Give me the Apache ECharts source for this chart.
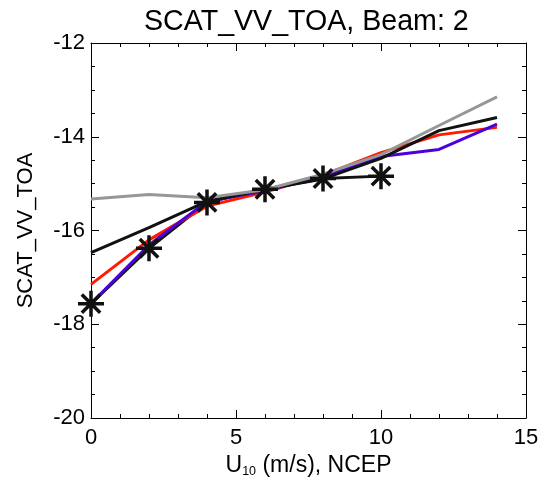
<!DOCTYPE html>
<html>
<head>
<meta charset="utf-8">
<script src="https://cdn.jsdelivr.net/npm/echarts@6/dist/echarts.min.js"></script>
<style>
  html, body { margin: 0; padding: 0; background: #fff; }
  #chart { width: 539px; height: 482px; }
</style>
</head>
<body>
<div id="chart"></div>
<script>
// wind speed bins (m/s)
const windSpeed = [0, 2, 4, 6, 8, 10, 12, 14];
const starX = [0, 2, 4, 6, 8, 10];
const starY = [-17.56, -16.38, -15.40, -15.12, -14.89, -14.84];
const redY = [-17.15, -16.20, -15.48, -15.18, -14.82, -14.34, -13.96, -13.80];
const blueY = [-17.56, -16.31, -15.38, -15.15, -14.86, -14.42, -14.27, -13.73];
const blackY = [-16.47, -15.94, -15.38, -15.12, -14.90, -14.46, -13.87, -13.59];
const grayY = [-15.33, -15.23, -15.30, -15.13, -14.80, -14.38, -13.76, -13.15];

const font = "Liberation Sans";
const starPath = "path://M0,-12L0,12M-12,0L12,0M-8.5,-8.5L8.5,8.5M-8.5,8.5L8.5,-8.5";

function pairs(xs, ys) {
  return xs.map((x, i) => [x, ys[i]]);
}

function lineSeries(ys, color) {
  return {
    type: "line",
    data: pairs(windSpeed, ys),
    showSymbol: false,
    symbol: "none",
    lineStyle: { color: color, width: 3 },
    silent: true,
  };
}

const axisLine = { show: true, onZero: false, lineStyle: { color: "#000", width: 1 } };
const axisTick = { show: true, inside: true, length: 8, lineStyle: { color: "#000" } };

function xMinor() {
  return { show: true, splitNumber: 5, length: 4, lineStyle: { color: "#000" } };
}
function yMinor() {
  return { show: true, splitNumber: 4, length: 4, lineStyle: { color: "#000" } };
}

const chart = echarts.init(document.getElementById("chart"));
chart.setOption({
  animation: false,
  title: {
    text: "SCAT_VV_TOA, Beam: 2",
    left: 139,
    top: 3,
    textStyle: { fontFamily: font, fontSize: 28.6, fontWeight: "normal", color: "#000" },
  },
  grid: { left: 91, right: 13, top: 43, bottom: 64, outerBoundsMode: "none" },
  xAxis: [
    {
      type: "value",
      min: 0,
      max: 15,
      interval: 5,
      minorTick: xMinor(),
      axisLabel: { fontFamily: font, fontSize: 22, color: "#000", margin: 9 },
      name: "{n|U}{s|10}{n| (m/s), NCEP}",
      nameLocation: "middle",
      nameGap: 30,
      nameTextStyle: {
        rich: {
          n: { fontFamily: font, fontSize: 23, color: "#000" },
          s: { fontFamily: font, fontSize: 12.5, color: "#000", verticalAlign: "bottom", padding: [12, 0, 0, 0] },
        },
      },
      axisLine: axisLine,
      axisTick: axisTick,
      splitLine: { show: false },
    },
    {
      type: "value",
      position: "top",
      min: 0,
      max: 15,
      interval: 5,
      minorTick: xMinor(),
      axisLabel: { show: false },
      axisLine: axisLine,
      axisTick: axisTick,
      splitLine: { show: false },
    },
  ],
  yAxis: [
    {
      type: "value",
      min: -20,
      max: -12,
      interval: 2,
      minorTick: yMinor(),
      axisLabel: { fontFamily: font, fontSize: 22, color: "#000", margin: 6 },
      name: "SCAT_VV_TOA",
      nameLocation: "middle",
      nameGap: 54,
      nameRotate: 90,
      nameTextStyle: { fontFamily: font, fontSize: 22, color: "#000" },
      axisLine: axisLine,
      axisTick: axisTick,
      splitLine: { show: false },
    },
    {
      type: "value",
      position: "right",
      min: -20,
      max: -12,
      interval: 2,
      minorTick: yMinor(),
      axisLabel: { show: false },
      axisLine: axisLine,
      axisTick: axisTick,
      splitLine: { show: false },
    },
  ],
  series: [
    {
      type: "line",
      data: pairs(starX, starY),
      symbol: starPath,
      symbolSize: 26,
      showAllSymbol: true,
      itemStyle: { color: "none", borderColor: "#111", borderWidth: 3.5 },
      lineStyle: { color: "#111", width: 3 },
      silent: true,
    },
    lineSeries(redY, "#ff1a00"),
    lineSeries(blueY, "#4b00dc"),
    lineSeries(blackY, "#111111"),
    lineSeries(grayY, "#979797"),
  ],
});
</script>
</body>
</html>
